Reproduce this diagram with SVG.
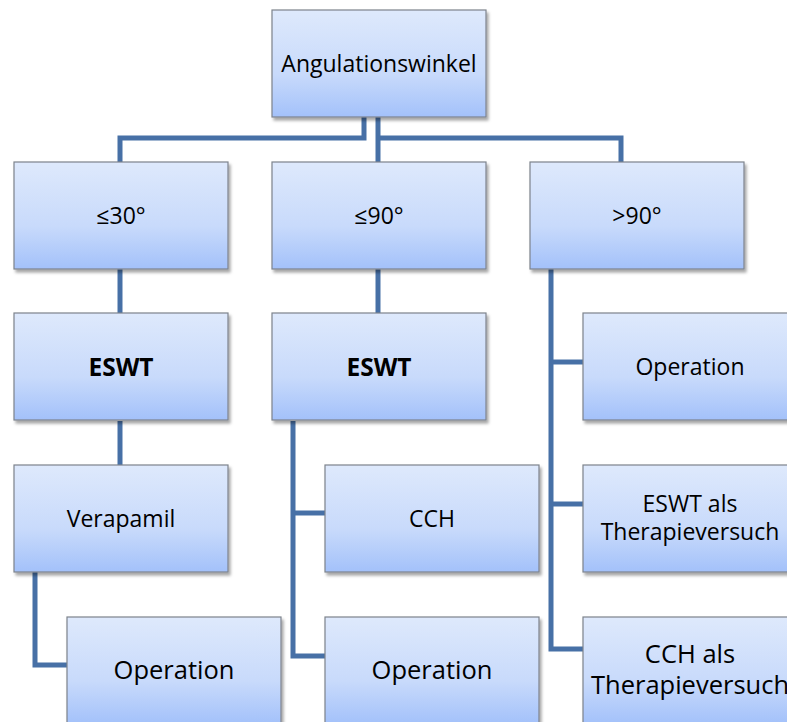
<svg xmlns="http://www.w3.org/2000/svg" width="787" height="722" viewBox="0 0 787 722">
<defs>
<linearGradient id="g" x1="0" y1="0" x2="0" y2="1">
<stop offset="0" stop-color="#DEE9FC"/>
<stop offset="0.6" stop-color="#C8DAFB"/>
<stop offset="1" stop-color="#A3C1FA"/>
</linearGradient>
<filter id="sh" x="-10%" y="-10%" width="125%" height="130%">
<feDropShadow dx="2" dy="3" stdDeviation="1.8" flood-color="#000" flood-opacity="0.35"/>
</filter>
<style>
.box{fill:url(#g);stroke:#7D838C;stroke-width:1.2;filter:url(#sh)}
.t{font-family:"Open Sans","Noto Sans",sans-serif;font-size:23px;fill:#000;text-anchor:middle}
.b{font-weight:bold;font-size:24.5px}
.big{font-size:25.5px}
.c{fill:none;stroke:#4770A6;stroke-width:5;stroke-linejoin:miter;stroke-linecap:butt}
</style>
</defs>
<rect width="787" height="722" fill="#fff"/>
<g id="connectors">
<path class="c" d="M364,117 V138 H120 V162"/>
<path class="c" d="M378,117 V162"/>
<path class="c" d="M378,138 H621 V162"/>
<path class="c" d="M120,268 V313"/>
<path class="c" d="M378,268 V313"/>
<path class="c" d="M120,421 V465"/>
<path class="c" d="M35,572 V665 H67"/>
<path class="c" d="M293,421 V656 H325"/>
<path class="c" d="M293,513 H325"/>
<path class="c" d="M551,268 V649 H583"/>
<path class="c" d="M551,362 H583"/>
<path class="c" d="M551,504 H583"/>
</g>
<g id="n_top"><rect class="box" x="272" y="10" width="214" height="107"/><text class="t" x="379" y="72">Angulationswinkel</text></g>
<g id="n_le30"><rect class="box" x="14" y="162" width="214" height="107"/><text class="t" x="121" y="224">≤30°</text></g>
<g id="n_le90"><rect class="box" x="272" y="162" width="214" height="107"/><text class="t" x="379" y="224">≤90°</text></g>
<g id="n_gt90"><rect class="box" x="530" y="162" width="214" height="107"/><text class="t" x="637" y="224">&gt;90°</text></g>
<g id="n_eswt1"><rect class="box" x="14" y="313" width="214" height="107"/><text class="t b" x="121" y="376">ESWT</text></g>
<g id="n_eswt2"><rect class="box" x="272" y="313" width="214" height="107"/><text class="t b" x="379" y="376">ESWT</text></g>
<g id="n_op_r"><rect class="box" x="583" y="313" width="214" height="107"/><text class="t" x="690" y="375">Operation</text></g>
<g id="n_vera"><rect class="box" x="14" y="465" width="214" height="107"/><text class="t" x="121" y="527">Verapamil</text></g>
<g id="n_cch"><rect class="box" x="325" y="465" width="214" height="107"/><text class="t" x="432" y="527">CCH</text></g>
<g id="n_eswt_tv"><rect class="box" x="583" y="465" width="214" height="107"/><text class="t" x="690" y="512">ESWT als</text><text class="t" x="690" y="540">Therapieversuch</text></g>
<g id="n_op_l"><rect class="box" x="67" y="617" width="214" height="107"/><text class="t big" x="174" y="679">Operation</text></g>
<g id="n_op_m"><rect class="box" x="325" y="617" width="214" height="107"/><text class="t big" x="432" y="679">Operation</text></g>
<g id="n_cch_tv"><rect class="box" x="583" y="617" width="214" height="107"/><text class="t big" x="690" y="663">CCH als</text><text class="t big" x="690" y="694">Therapieversuch</text></g>
</svg>
